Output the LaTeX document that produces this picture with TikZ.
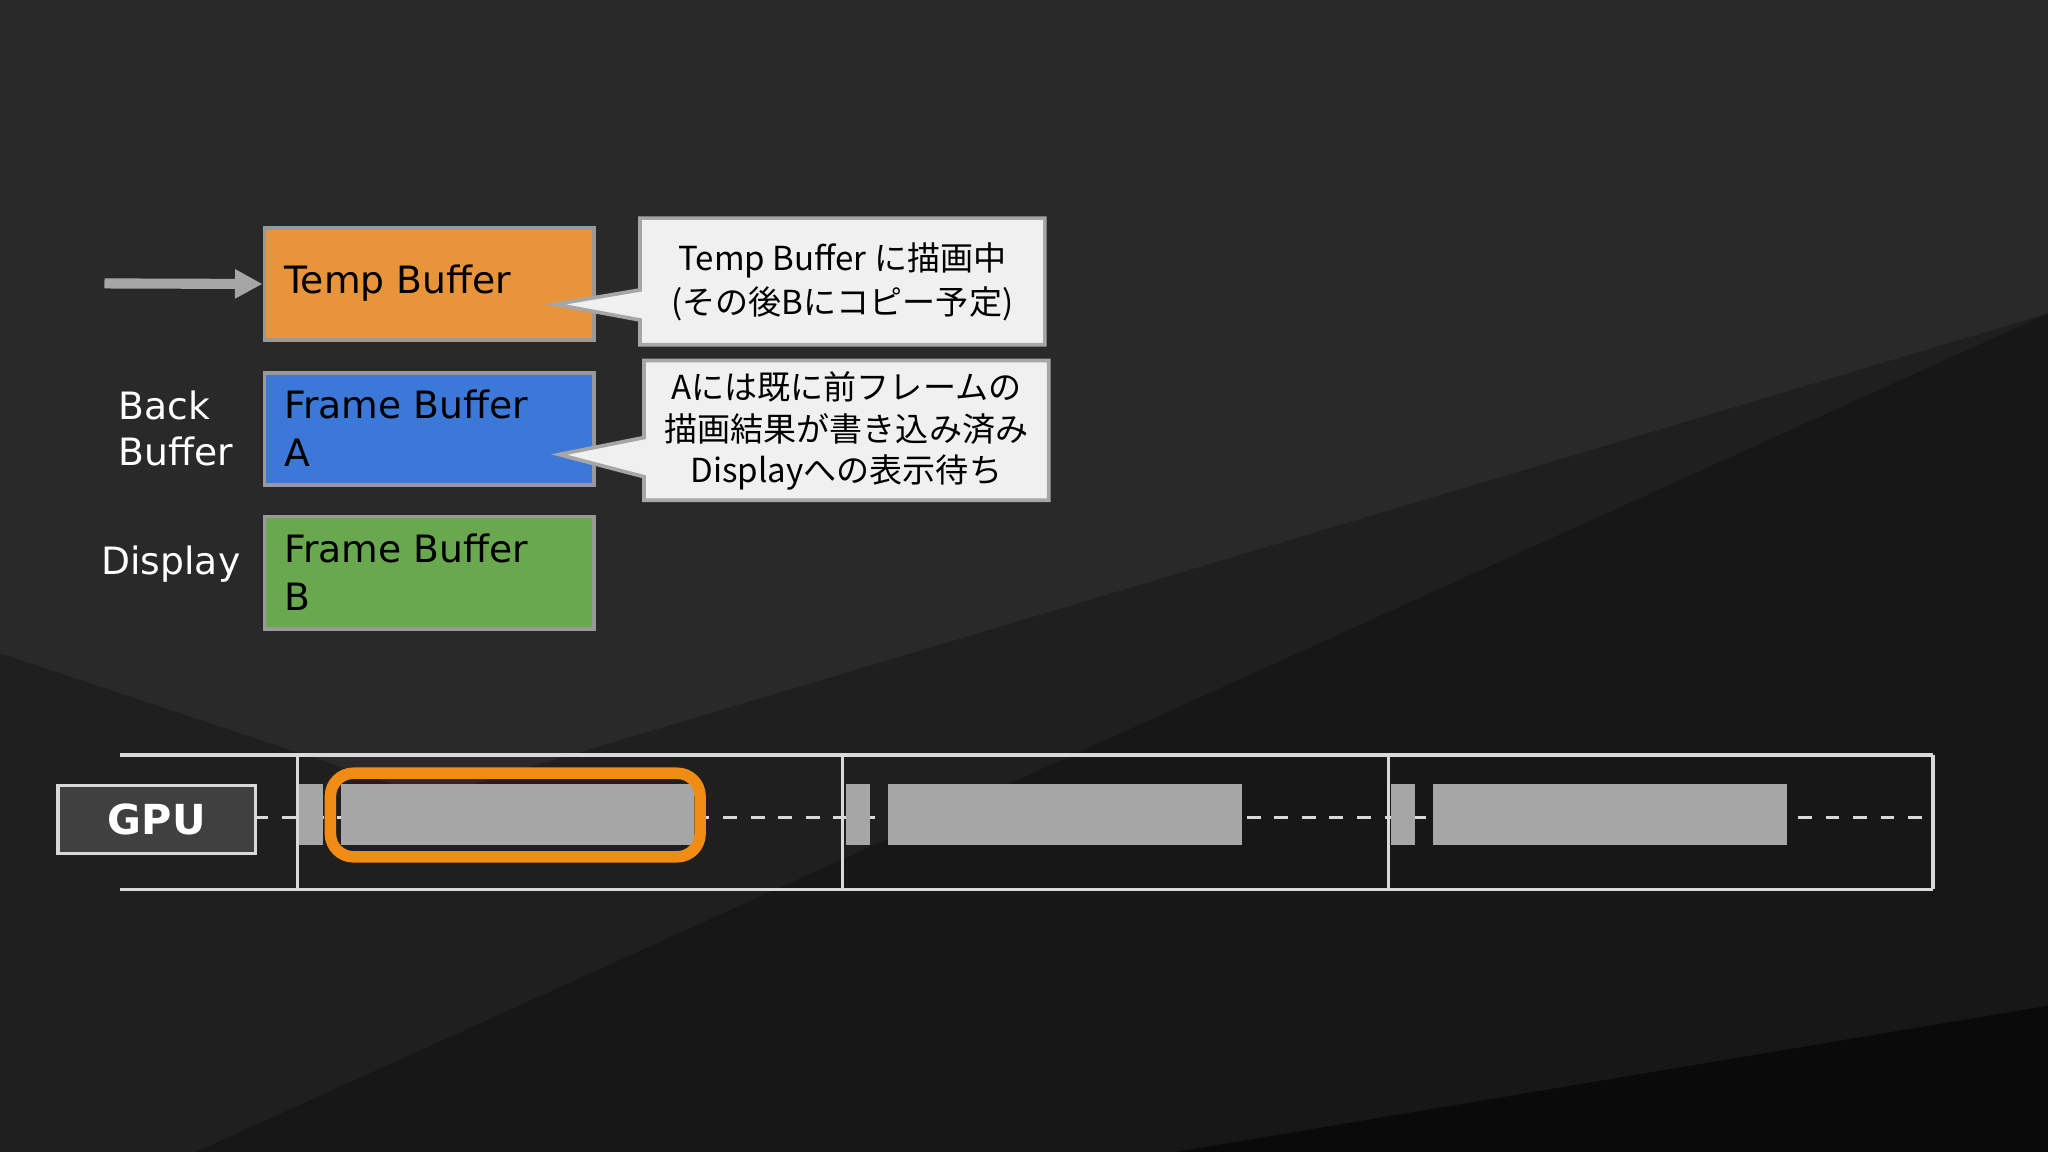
\documentclass[tikz,border=0pt]{standalone}
\usetikzlibrary{arrows.meta}
\usepackage{fontspec}
\setmainfont{DejaVu Sans}
\newfontfamily\jp{Noto Sans CJK JP}
\begin{document}
\begin{tikzpicture}[x=0.01cm,y=-0.01cm,
  buf/.style={draw=gray!80,line width=0.8pt,anchor=north west,minimum width=2.52cm,minimum height=0.86cm,inner sep=0pt},
  lbl/.style={text=white,font=\fontsize{8.2}{10}\selectfont,align=left},
  callout/.style={fill=white!94!black,draw=gray!70,line width=0.8pt},
  blk/.style={fill=gray!70!white},
  tl/.style={draw=white!85!black,line width=0.7pt}]
\useasboundingbox (0,0) rectangle (1568,882);
\fill[black!84] (0,0) rectangle (1568,882);
\fill[black!88] (0,500) -- (330,610) -- (1568,240) -- (1568,882) -- (0,882) -- cycle;
\fill[black!91] (150,882) -- (1568,240) -- (1568,882) -- cycle;
\fill[black!96] (900,882) -- (1568,770) -- (1568,882) -- cycle;
% buffers
\node[buf,fill={rgb,255:red,232;green,148;blue,58}] (tb) at (201,173) {};
\node[buf,fill={rgb,255:red,60;green,120;blue,216}] (fa) at (201,284) {};
\node[buf,fill={rgb,255:red,106;green,168;blue,79}] (fb) at (201,394) {};
\node[anchor=west,inner sep=0pt,font=\fontsize{8.2}{10}\selectfont] (tbt) at (217,217) {Temp Buffer};
\node[anchor=west,inner sep=0pt,align=left,font=\fontsize{8.2}{10.5}\selectfont] (fat) at (217,328) {Frame Buffer\\A};
\node[anchor=west,inner sep=0pt,align=left,font=\fontsize{8.2}{10.5}\selectfont] (fbt) at (217,438) {Frame Buffer\\B};
\coordinate (arrs) at (80,217);
\draw[-{Triangle[length=6pt,width=6pt]},line width=2.2pt,draw=gray!70,color=gray!70] (arrs) -- (tb.west);
\node[lbl,anchor=west,inner sep=0pt] (bb) at (90,328) {Back\\Buffer};
\node[lbl,anchor=west,inner sep=0pt] (dp) at (77,432) {Display};
% callouts
\draw[callout] (490,167) -- (800,167) -- (800,264) -- (490,264) -- (490,245) -- (425,233) -- (490,222) -- cycle;
\node[font=\jp\fontsize{7.2}{9.5}\selectfont,align=center] (c1) at (645,216) {Temp Buffer に描画中\\(その後Bにコピー予定)};
\draw[callout] (493,276) -- (803,276) -- (803,383) -- (493,383) -- (493,365) -- (428,348) -- (493,335) -- cycle;
\node[font=\jp\fontsize{7.2}{9}\selectfont,align=center] (c2) at (648,330) {Aには既に前フレームの\\描画結果が書き込み済み\\Displayへの表示待ち};
% timeline
\draw[tl] (92,578) -- (1480,578);
\draw[tl] (92,681) -- (1480,681);
\foreach \x in {228,645,1063,1480} \draw[tl] (\x,578) -- (\x,681);
\draw[tl,dashed] (195,626) -- (1480,626);
\node[fill=black!75,draw=white!85!black,line width=0.8pt,anchor=north west,minimum width=1.51cm,minimum height=0.52cm,inner sep=0pt,text=white,font=\bfseries\fontsize{9}{11}\selectfont] (gpu) at (43,600) {GPU};
\fill[blk] (229,600) rectangle (247,647);
\fill[blk] (261,600) rectangle (531,647);
\draw[draw={rgb,255:red,240;green,140;blue,20},line width=2.5pt,rounded corners=5pt] (253,592) rectangle (536,656);
\fill[blk] (648,600) rectangle (666,647);
\fill[blk] (680,600) rectangle (951,647);
\fill[blk] (1065,600) rectangle (1083,647);
\fill[blk] (1097,600) rectangle (1368,647);
\end{tikzpicture}
\end{document}
